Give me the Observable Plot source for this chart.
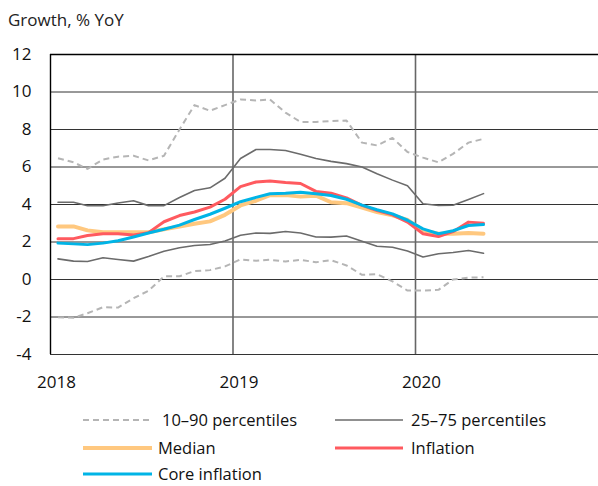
<!DOCTYPE html>
<html>
<head>
<meta charset="utf-8">
<script src="https://cdn.jsdelivr.net/npm/d3@7"></script>
<script src="https://cdn.jsdelivr.net/npm/@observablehq/plot@0.6"></script>
<style>
  body { margin: 0; background: #fff; font-family: "Open Sans", sans-serif; color: #111; overflow: hidden; }
  #wrap { width: 598px; position: relative; }
  #title { height: 36px; box-sizing: border-box; padding: 8px 0 0 8px; font-size: 17px; line-height: 24px; color: #222; }
  #legend { position: relative; height: 90px; font-size: 16.5px; color: #111; }
  .item { position: absolute; display: flex; align-items: center; height: 16px; line-height: 16px; white-space: nowrap; }
</style>
</head>
<body>
<div id="wrap">
  <div id="title">Growth, % YoY</div>
  <div id="chart"></div>
  <div id="legend"></div>
</div>
<script>
const months = ["2018-01","2018-02","2018-03","2018-04","2018-05","2018-06","2018-07","2018-08","2018-09","2018-10","2018-11","2018-12",
  "2019-01","2019-02","2019-03","2019-04","2019-05","2019-06","2019-07","2019-08","2019-09","2019-10","2019-11","2019-12",
  "2020-01","2020-02","2020-03","2020-04","2020-05"];
const p10 = [-2.02,-2.04,-1.8,-1.48,-1.5,-1.0,-0.6,0.17,0.17,0.45,0.5,0.7,1.07,1.0,1.05,0.96,1.05,0.92,1.03,0.75,0.25,0.28,-0.1,-0.59,-0.59,-0.55,0.0,0.1,0.12];
const p90 = [6.47,6.25,5.9,6.4,6.55,6.6,6.35,6.6,8.0,9.3,9.0,9.3,9.6,9.55,9.6,8.9,8.4,8.4,8.45,8.48,7.3,7.15,7.55,6.8,6.5,6.25,6.7,7.3,7.5];
const p25 = [1.1,0.98,0.96,1.16,1.07,0.98,1.23,1.51,1.69,1.81,1.87,2.05,2.36,2.48,2.46,2.56,2.48,2.27,2.26,2.32,2.04,1.77,1.72,1.52,1.2,1.37,1.44,1.55,1.4];
const p75 = [4.12,4.12,3.93,3.93,4.08,4.2,3.94,3.94,4.37,4.75,4.89,5.4,6.45,6.93,6.93,6.88,6.68,6.45,6.3,6.18,6.0,5.64,5.3,5.0,4.04,3.95,3.96,4.27,4.58];
const median = [2.83,2.83,2.62,2.52,2.52,2.52,2.52,2.68,2.82,2.97,3.1,3.45,3.95,4.2,4.5,4.5,4.42,4.47,4.12,4.07,3.84,3.6,3.42,3.18,2.62,2.44,2.44,2.48,2.44];
const inflation = [2.18,2.18,2.35,2.44,2.44,2.37,2.5,3.08,3.41,3.6,3.86,4.28,4.95,5.2,5.25,5.17,5.12,4.7,4.6,4.35,3.95,3.68,3.45,3.06,2.44,2.29,2.55,3.06,3.0];
const core = [1.94,1.9,1.86,1.94,2.07,2.27,2.48,2.68,2.9,3.2,3.48,3.8,4.15,4.38,4.57,4.6,4.65,4.57,4.48,4.28,3.97,3.72,3.5,3.16,2.7,2.44,2.6,2.88,2.93];
const yearTicks = ["2018","2019","2020"];
const yTicks = [-4,-2,0,2,4,6,8,10,12];

const parseMonth = d3.utcParse("%Y-%m");
const mid = s => { const d = parseMonth(s); return new Date(Date.UTC(d.getUTCFullYear(), d.getUTCMonth(), 16)); };
const yearDates = yearTicks.map(y => new Date(Date.UTC(+y, 0, 1)));

const series = [
  {key: "p10", vals: p10, stroke: "#b5b5b5", w: 2, dash: "6,4"},
  {key: "p90", vals: p90, stroke: "#b5b5b5", w: 2, dash: "6,4"},
  {key: "p25", vals: p25, stroke: "#6b6b6b", w: 1.6},
  {key: "p75", vals: p75, stroke: "#6b6b6b", w: 1.6},
  {key: "median", vals: median, stroke: "#ffc87f", w: 4},
  {key: "inflation", vals: inflation, stroke: "#ff5a5f", w: 3},
  {key: "core", vals: core, stroke: "#00b4e6", w: 3}
];

const lineMarks = series.map(s => Plot.line(months.map((m, i) => ({date: mid(m), value: s.vals[i]})), {
  x: "date", y: "value", stroke: s.stroke, strokeWidth: s.w, strokeDasharray: s.dash,
  strokeLinejoin: "round", strokeLinecap: s.dash ? "butt" : "round"
}));

const chart = Plot.plot({
  width: 598,
  height: 358,
  marginTop: 18,
  marginBottom: 40,
  marginLeft: 50,
  marginRight: 0,
  style: {fontFamily: "Open Sans, sans-serif", fontSize: "17px", color: "#111", background: "#fff"},
  x: {type: "utc", domain: [new Date(Date.UTC(2018,0,1)), new Date(Date.UTC(2021,0,1))]},
  y: {domain: [-4, 12]},
  marks: [
    Plot.ruleY(yTicks.filter(t => t < 12), {stroke: "#333", strokeWidth: 1}),
    Plot.ruleX(yearDates.slice(1), {stroke: "#666", strokeWidth: 1.6}),
    Plot.ruleY([12], {stroke: "#000", strokeWidth: 1.4}),
    Plot.ruleX(yearDates.slice(0, 1), {stroke: "#000", strokeWidth: 1.4}),
    Plot.axisY({ticks: yTicks, tickSize: 0, tickPadding: 19, label: null, fontSize: 17, tickFormat: d => String(d)}),
    Plot.axisX({ticks: yearDates, tickSize: 0, tickPadding: 21, tickFormat: d3.utcFormat("%Y"), label: null, dx: 6, fontSize: 17}),
    ...lineMarks
  ]
});
document.getElementById("chart").appendChild(chart);

const legendItems = [
  {label: "10\u201390 percentiles", stroke: "#b5b5b5", w: 2, dash: "6,4", x: 83, y: 26, sw: 66, gap: 13},
  {label: "25\u201375 percentiles", stroke: "#6b6b6b", w: 1.6, x: 335, y: 26, sw: 68, gap: 8},
  {label: "Median", stroke: "#ffc87f", w: 4, x: 83, y: 54, sw: 69, gap: 6},
  {label: "Inflation", stroke: "#ff5a5f", w: 3, x: 335, y: 54, sw: 68, gap: 8},
  {label: "Core inflation", stroke: "#00b4e6", w: 3, x: 83, y: 80, sw: 69, gap: 6}
];
const legend = document.getElementById("legend");
legendItems.forEach(it => {
  const div = document.createElement("div");
  div.className = "item";
  div.style.left = it.x + "px";
  div.style.top = (it.y - 8) + "px";
  div.innerHTML = `<svg width="${it.sw}" height="10" style="margin-right:${it.gap}px"><line x1="0" x2="${it.sw}" y1="5" y2="5" stroke="${it.stroke}" stroke-width="${it.w}" ${it.dash ? `stroke-dasharray="${it.dash}"` : ""}/></svg><span>${it.label}</span>`;
  legend.appendChild(div);
});
</script>
</body>
</html>
